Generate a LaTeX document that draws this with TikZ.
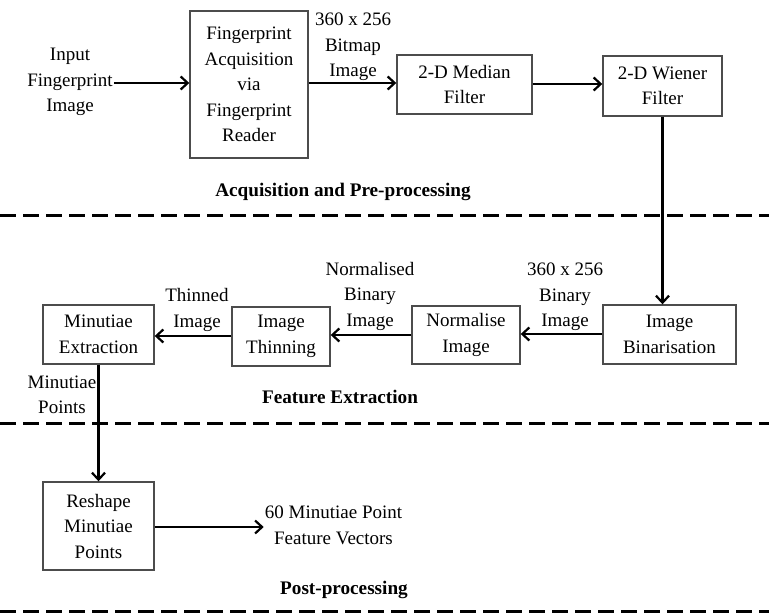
\documentclass[tikz,border=0pt]{standalone}
\usepackage{fontspec}
\setmainfont{Liberation Serif}
\usetikzlibrary{arrows.meta}

\begin{document}
\begin{tikzpicture}[x=1pt,y=-1pt,
  font=\fontsize{19}{25.5}\selectfont,
  block/.style={draw=black!70,line width=1.4pt,align=center,inner sep=2pt},
  lbl/.style={align=center,inner sep=1pt},
  title/.style={font=\fontsize{19.2}{22}\selectfont\bfseries},
  flow/.style={line width=2.2pt,-{Straight Barb[length=7pt,width=13pt,line width=2.2pt]}},
  split/.style={line width=3pt,dash pattern=on 16pt off 7pt}]
\useasboundingbox (0,0) rectangle (769,613);

% Acquisition and Pre-processing
\node [lbl] (input) at (70,82) {Input\\Fingerprint\\Image};
\node [block,minimum width=118pt,minimum height=147pt] (acq) at (249,84.5) {Fingerprint\\Acquisition\\via\\Fingerprint\\Reader};
\node [block,minimum width=135pt,minimum height=59pt] (median) at (464.5,84.5) {2-D Median\\Filter};
\node [block,minimum width=119pt,minimum height=60pt] (wiener) at (662.5,86) {2-D Wiener\\Filter};
\node [lbl] (bitmap) at (353,47) {360 x 256\\Bitmap\\Image};
\node [title] (sec1) at (343,192) {Acquisition and Pre-processing};

\draw [flow] (input.east |- 0,83) -- (acq.west |- 0,83);
\draw [flow] (acq.east |- 0,83) -- (median.west |- 0,83);
\draw [flow] (median.east |- 0,84) -- (wiener.west |- 0,84);

% dashed lines
\coordinate (d1l) at (0,215);
\coordinate (d1r) at (769,215);
\draw [split] (d1l) -- (d1r);

% Feature Extraction
\node [block,minimum width=133pt,minimum height=59pt] (binar) at (669.5,334.5) {Image\\Binarisation};
\node [block,minimum width=108pt,minimum height=58pt] (norm) at (466,335) {Normalise\\Image};
\node [block,minimum width=98pt,minimum height=59pt] (thin) at (281,336.5) {Image\\Thinning};
\node [block,minimum width=111pt,minimum height=59pt] (minex) at (98.5,334.5) {Minutiae\\Extraction};
\node [lbl] (binary) at (565,297) {360 x 256\\Binary\\Image};
\node [lbl] (normd) at (370,296) {Normalised\\Binary\\Image};
\node [lbl] (thinned) at (197,310) {Thinned\\Image};
\node [lbl] (points) at (62,395) {Minutiae\\Points};
\node [title] (sec2) at (340,397) {Feature Extraction};

\draw [flow] (wiener.south) -- (wiener.south |- binar.north);
\draw [flow] (binar.west |- 0,334) -- (norm.east |- 0,334);
\draw [flow] (norm.west |- 0,335) -- (thin.east |- 0,335);
\draw [flow] (thin.west |- 0,336) -- (minex.east |- 0,336);

\coordinate (d2l) at (0,423);
\coordinate (d2r) at (769,423);
\draw [split] (d2l) -- (d2r);

% Post-processing
\node [block,minimum width=111pt,minimum height=88pt] (reshape) at (98.5,526) {Reshape\\Minutiae\\Points};
\node [lbl] (vectors) at (333.5,525.5) {60 Minutiae Point\\Feature Vectors};
\node [title] (sec3) at (344,590) {Post-processing};

\draw [flow] (minex.south) -- (reshape.north);
\draw [flow] (reshape.east |- 0,527) -- (vectors.west |- 0,527);

\coordinate (d3l) at (0,611);
\coordinate (d3r) at (769,611);
\draw [split] (d3l) -- (d3r);

\end{tikzpicture}
\end{document}
